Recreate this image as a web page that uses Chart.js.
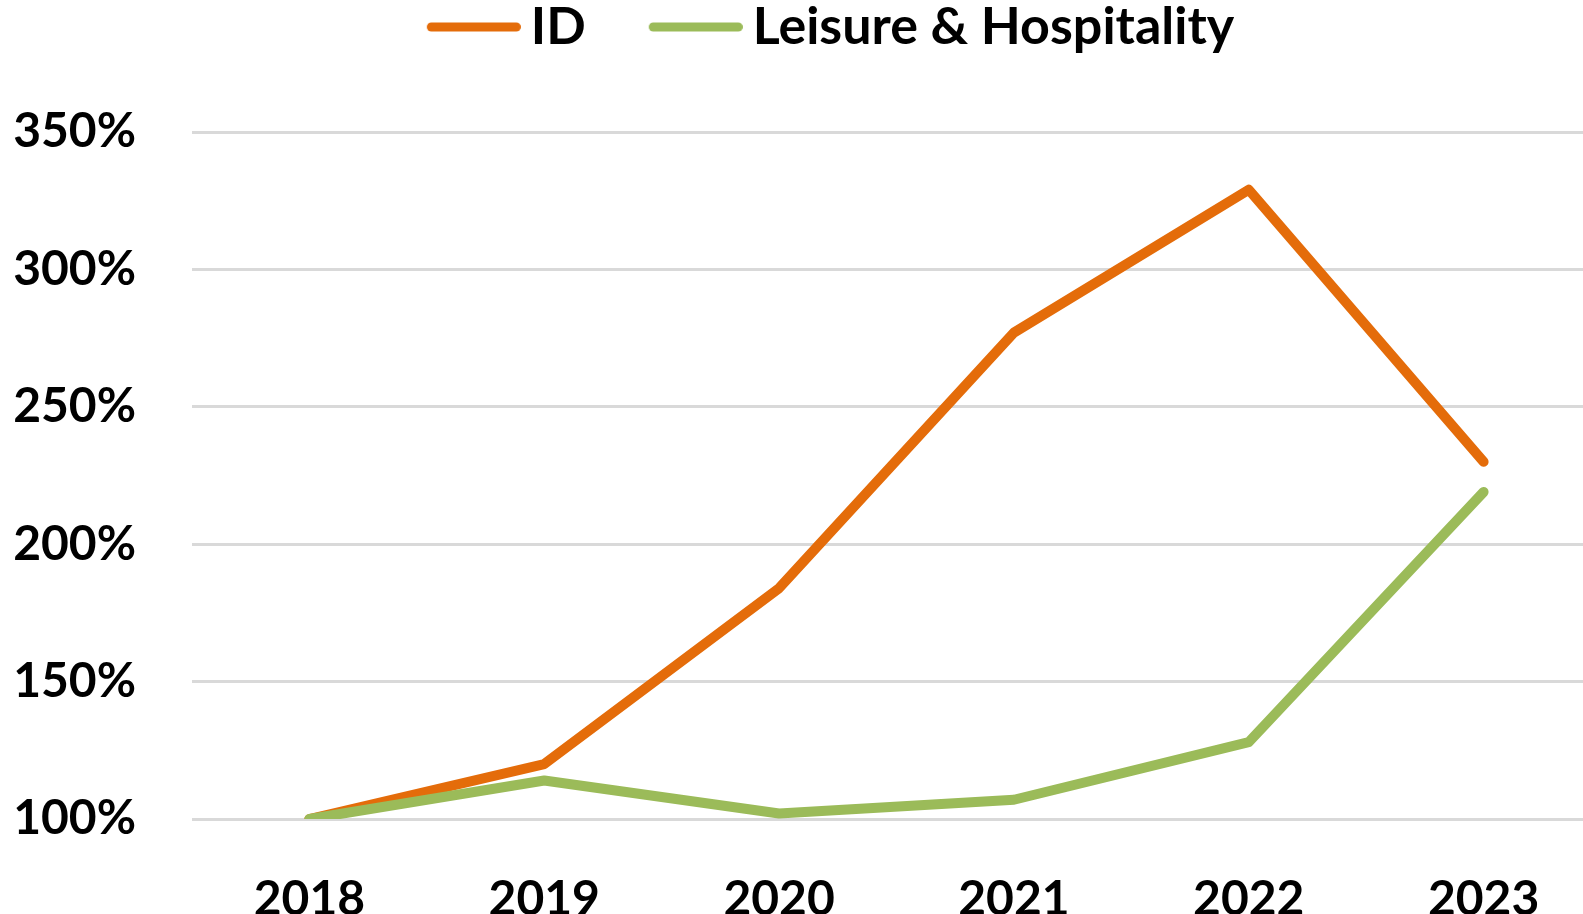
<!DOCTYPE html>
<html>
<head>
<meta charset="utf-8">
<script src="https://cdn.jsdelivr.net/npm/chart.js@4"></script>
<style>
  html, body { margin: 0; padding: 0; background: #fff; }
  #wrap { width: 1583px; height: 914px; }
</style>
</head>
<body>
<div id="wrap"><canvas id="lineChart"></canvas></div>
<script>
const years = ['2018', '2019', '2020', '2021', '2022', '2023'];
const idValues = [100, 120, 184, 277, 329, 230];
const leisureValues = [100, 114, 102, 107, 128, 219];
const yTicks = [100, 150, 200, 250, 300, 350];

const idColor = '#E46C0A';
const leisureColor = '#9BBB59';

const tickFont = { family: 'Lato, "Open Sans", sans-serif', size: 48, weight: 'bold' };
const legendFont = { family: 'Lato, "Open Sans", sans-serif', size: 52, weight: 'bold' };

// legend marker: a short thick line, shifted right so it sits close to the text
function legendLine(color) {
    const c = document.createElement('canvas');
    c.width = 108;
    c.height = 14;
    const g = c.getContext('2d');
    g.strokeStyle = color;
    g.lineWidth = 9;
    g.lineCap = 'round';
    g.beginPath();
    g.moveTo(18.5, 7);
    g.lineTo(103.5, 7);
    g.stroke();
    return c;
}

const layoutTweak = {
    id: 'layoutTweak',
    beforeInit(chart) {
        const lg = chart.legend;
        const fit = lg.fit;
        lg.fit = function () { fit.call(this); this.height = 132; };
    },
    afterLayout(chart) {
        const lg = chart.legend;
        lg.top -= 64;
        lg.left += 40;
        lg.right += 40;
        // plot area runs a little past the right edge in the original
        const x = chart.scales.x;
        x.right += 18;
        x.width += 18;
        x.configure();
    }
};

const ctx = document.getElementById('lineChart').getContext('2d');
new Chart(ctx, {
    type: 'line',
    data: {
        labels: years,
        datasets: [
            {
                label: 'ID',
                data: idValues,
                borderColor: idColor,
                backgroundColor: idColor,
                borderWidth: 10,
                borderCapStyle: 'round',
                borderJoinStyle: 'round',
                pointRadius: 0,
                pointStyle: legendLine(idColor),
                tension: 0,
                order: 1
            },
            {
                label: 'Leisure & Hospitality',
                data: leisureValues,
                borderColor: leisureColor,
                backgroundColor: leisureColor,
                borderWidth: 10,
                borderCapStyle: 'round',
                borderJoinStyle: 'round',
                pointRadius: 0,
                pointStyle: legendLine(leisureColor),
                tension: 0,
                order: 0
            }
        ]
    },
    options: {
        responsive: true,
        maintainAspectRatio: false,
        animation: false,
        layout: { padding: 0 },
        plugins: {
            tooltip: { enabled: false },
            legend: {
                position: 'top',
                labels: {
                    color: '#000',
                    font: legendFont,
                    usePointStyle: true,
                    pointStyleWidth: 76,
                    padding: 65,
                    sort: (a, b) => a.datasetIndex - b.datasetIndex
                }
            }
        },
        scales: {
            x: {
                offset: true,
                grid: { display: false },
                border: { display: false },
                afterFit: axis => { axis.height = 95; },
                ticks: {
                    color: '#000',
                    font: { ...tickFont, lineHeight: 1.0 },
                    padding: 49,
                    maxRotation: 0
                }
            },
            y: {
                min: 100,
                max: 350,
                afterBuildTicks: axis => { axis.ticks = yTicks.map(v => ({ value: v })); },
                afterFit: axis => { axis.width = 192; },
                grid: { color: '#D9D9D9', lineWidth: 3, drawTicks: false },
                border: { display: false },
                ticks: {
                    color: '#000',
                    font: tickFont,
                    padding: 56,
                    callback: v => v + '%'
                }
            }
        }
    },
    plugins: [layoutTweak]
});
</script>
</body>
</html>
